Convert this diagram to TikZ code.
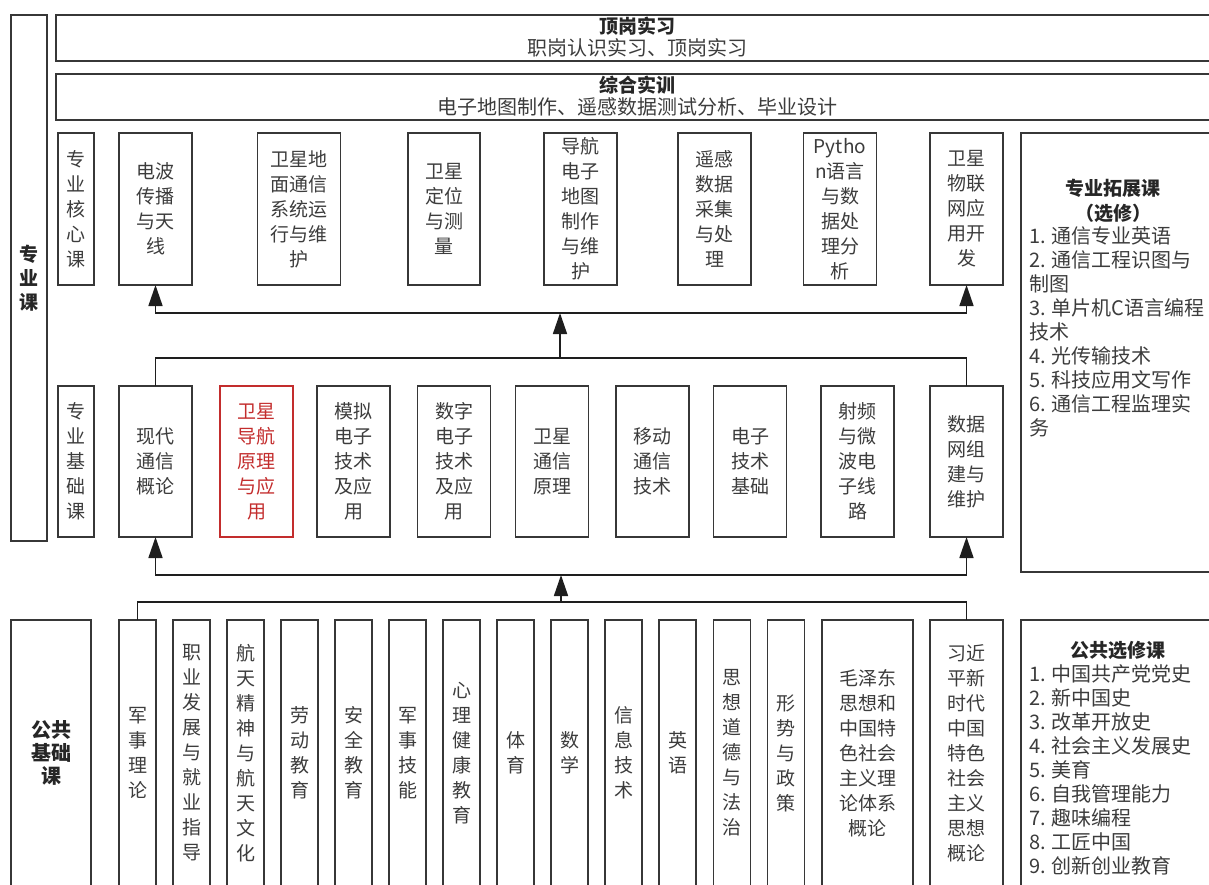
\documentclass[tikz,border=0pt]{standalone}
\usepackage{fontspec}
\setmainfont{Noto Sans CJK SC}
\usetikzlibrary{arrows.meta}
\definecolor{boxline}{RGB}{55,55,55}
\definecolor{txt}{RGB}{60,60,60}
\definecolor{hired}{RGB}{195,45,45}
\definecolor{conn}{RGB}{30,30,30}
\begin{document}
\begin{tikzpicture}[x=1pt,y=-1pt,
  box/.style={draw=boxline,line width=1.6pt,inner sep=0pt,outer sep=0pt,align=center,text=txt,font=\fontsize{19}{25}\selectfont},
  redbox/.style={box,draw=hired,text=hired},
  lbl/.style={inner sep=0pt,outer sep=0pt,text=txt,align=center},
  ttl/.style={lbl,font=\bfseries\fontsize{19}{24}\selectfont,text=black!85},
  sub/.style={lbl,font=\fontsize{20}{22}\selectfont},
  lst/.style={lbl,align=left,font=\fontsize{20}{24}\selectfont,anchor=north west},
  wire/.style={draw=conn,line width=1.6pt},
  arr/.style={wire,-{Triangle[length=21pt,width=14pt]}},
]
\useasboundingbox (0,0) rectangle (1209,884);
\clip (0,0) rectangle (1209,884);

% left label box
\node[box,minimum width=36pt,minimum height=526pt,font=\bfseries\fontsize{19}{24}\selectfont,text=black!85] (L1) at (29,278) {专\\业\\课};

% top boxes
\node[box,minimum width=1162pt,minimum height=46pt] (T1) at (637,38) {};
\node[ttl] (T1a) at (637,26) {顶岗实习};
\node[sub] (T1b) at (637,48) {职岗认识实习、顶岗实习};
\node[box,minimum width=1162pt,minimum height=46pt] (T2) at (637,97) {};
\node[ttl] (T2a) at (637,85) {综合实训};
\node[sub] (T2b) at (637,107) {电子地图制作、遥感数据测试分析、毕业设计};

% core row
\node[box,minimum width=36pt,minimum height=152pt] (c0) at (76,209) {专\\业\\核\\心\\课};
\node[box,minimum width=73pt,minimum height=152pt] (c1) at (155.5,209) {电波\\传播\\与天\\线};
\node[box,minimum width=83pt,minimum height=152pt] (c2) at (299,209) {卫星地\\面通信\\系统运\\行与维\\护};
\node[box,minimum width=72pt,minimum height=152pt] (c3) at (444,209) {卫星\\定位\\与测\\量};
\node[box,minimum width=73pt,minimum height=152pt] (c4) at (580.5,209) {导航\\电子\\地图\\制作\\与维\\护};
\node[box,minimum width=73pt,minimum height=152pt] (c5) at (714.5,209) {遥感\\数据\\采集\\与处\\理};
\node[box,minimum width=73pt,minimum height=152pt] (c6) at (840,209) {Pytho\\n语言\\与数\\据处\\理分\\析};
\node[box,minimum width=73pt,minimum height=152pt] (c7) at (966.5,209) {卫星\\物联\\网应\\用开\\发};

% foundation row
\node[box,minimum width=36pt,minimum height=151pt] (f0) at (76,461.5) {专\\业\\基\\础\\课};
\node[box,minimum width=73pt,minimum height=151pt] (f1) at (155.5,461.5) {现代\\通信\\概论};
\node[redbox,minimum width=73pt,minimum height=151pt] (f2) at (256.5,461.5) {卫星\\导航\\原理\\与应\\用};
\node[box,minimum width=73pt,minimum height=151pt] (f3) at (353.5,461.5) {模拟\\电子\\技术\\及应\\用};
\node[box,minimum width=73pt,minimum height=151pt] (f4) at (454,461.5) {数字\\电子\\技术\\及应\\用};
\node[box,minimum width=73pt,minimum height=151pt] (f5) at (552,461.5) {卫星\\通信\\原理};
\node[box,minimum width=73pt,minimum height=151pt] (f6) at (652.5,461.5) {移动\\通信\\技术};
\node[box,minimum width=73pt,minimum height=151pt] (f7) at (750,461.5) {电子\\技术\\基础};
\node[box,minimum width=73pt,minimum height=151pt] (f8) at (857.5,461.5) {射频\\与微\\波电\\子线\\路};
\node[box,minimum width=73pt,minimum height=151pt] (f9) at (966.5,461.5) {数据\\网组\\建与\\维护};

% public row
\node[box,minimum width=80pt,minimum height=266pt,font=\bfseries\fontsize{20}{23}\selectfont,text=black!85] (p0) at (51,753) {公共\\基础\\课};
\node[box,minimum width=37pt,minimum height=266pt] (p1) at (137.5,753) {军\\事\\理\\论};
\node[box,minimum width=37pt,minimum height=266pt] (p2) at (191.5,753) {职\\业\\发\\展\\与\\就\\业\\指\\导};
\node[box,minimum width=37pt,minimum height=266pt] (p3) at (245.5,753) {航\\天\\精\\神\\与\\航\\天\\文\\化};
\node[box,minimum width=37pt,minimum height=266pt] (p4) at (299.5,753) {劳\\动\\教\\育};
\node[box,minimum width=37pt,minimum height=266pt] (p5) at (353.5,753) {安\\全\\教\\育};
\node[box,minimum width=37pt,minimum height=266pt] (p6) at (407.5,753) {军\\事\\技\\能};
\node[box,minimum width=37pt,minimum height=266pt] (p7) at (461.5,753) {心\\理\\健\\康\\教\\育};
\node[box,minimum width=37pt,minimum height=266pt] (p8) at (515.5,753) {体\\育};
\node[box,minimum width=37pt,minimum height=266pt] (p9) at (569.5,753) {数\\学};
\node[box,minimum width=37pt,minimum height=266pt] (p10) at (623.5,753) {信\\息\\技\\术};
\node[box,minimum width=37pt,minimum height=266pt] (p11) at (677.5,753) {英\\语};
\node[box,minimum width=37pt,minimum height=266pt] (p12) at (732,753) {思\\想\\道\\德\\与\\法\\治};
\node[box,minimum width=37pt,minimum height=266pt] (p13) at (786,753) {形\\势\\与\\政\\策};
\node[box,minimum width=91pt,minimum height=266pt] (p14) at (867.5,753) {毛泽东\\思想和\\中国特\\色社会\\主义理\\论体系\\概论};
\node[box,minimum width=73pt,minimum height=266pt] (p15) at (966.5,753) {习近\\平新\\时代\\中国\\特色\\社会\\主义\\思想\\概论};

% right panels
\node[box,minimum width=199pt,minimum height=439pt] (R1) at (1120.5,352.5) {};
\node[ttl] (R1a) at (1113,188) {专业拓展课};
\node[ttl] (R1b) at (1113,213) {（选修）};
\node[lst] (R1c) at (1029,227) {1. 通信专业英语\\2. 通信工程识图与\\制图\\3. 单片机C语言编程\\技术\\4. 光传输技术\\5. 科技应用文写作\\6. 通信工程监理实\\务};
\node[box,minimum width=199pt,minimum height=266pt] (R2) at (1120.5,753) {};
\node[ttl] (R2a) at (1118,650) {公共选修课};
\node[lst] (R2c) at (1029,665) {1. 中国共产党党史\\2. 新中国史\\3. 改革开放史\\4. 社会主义发展史\\5. 美育\\6. 自我管理能力\\7. 趣味编程\\8. 工匠中国\\9. 创新创业教育};

% connectors
\coordinate (bus1) at (560,358);
\coordinate (bus2) at (560,313);
\coordinate (bus3) at (561,575);
\coordinate (bus4) at (561,602);
\draw[wire] (f1.north) |- (bus1) -| (f9.north);
\draw[arr] (bus1) -- (bus2);
\draw[arr] (bus2) -| (c1.south);
\draw[arr] (bus2) -| (c7.south);
\draw[wire] (p1.north) |- (bus4) -| (p15.north);
\draw[arr] (bus4) -- (bus3);
\draw[arr] (bus3) -| (f1.south);
\draw[arr] (bus3) -| (f9.south);
\end{tikzpicture}
\end{document}
